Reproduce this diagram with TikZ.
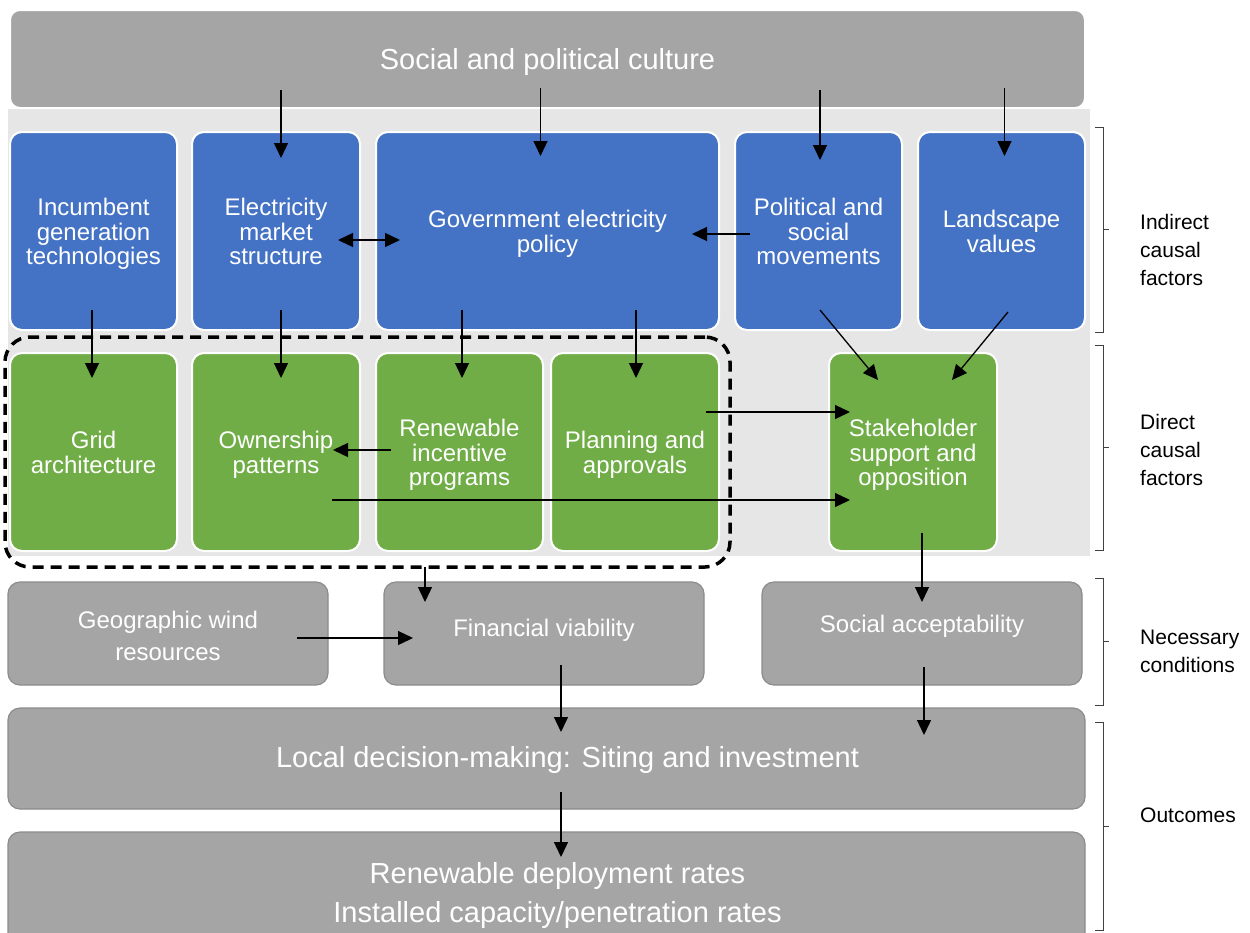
\documentclass[tikz,border=0pt]{standalone}
\usepackage{fontspec}
\setmainfont{Liberation Sans}
\usetikzlibrary{arrows.meta,calc}
\definecolor{cblue}{HTML}{4472C4}
\definecolor{cgreen}{HTML}{70AD47}
\definecolor{cgrey}{HTML}{A5A5A5}
\definecolor{cband}{HTML}{E6E6E6}
\definecolor{cedge}{HTML}{8C8C8C}
\definecolor{cbrk}{HTML}{404040}
\newcommand\fsz[2]{\fontsize{#1}{#2}\selectfont}
\begin{document}
\begin{tikzpicture}[x=1pt,y=-1pt,
  box/.style={rounded corners=12pt, inner sep=0pt, outer sep=0pt, anchor=center},
  inner/.style={align=center, text=white, inner sep=0pt},
  ftxt/.style={inner, font=\fsz{24}{24.5}, text depth=5pt, yshift=-3pt},
  ctxt/.style={inner, font=\fsz{24}{32}},
  btxt/.style={inner, font=\fsz{29}{39}},
  factor/.style={box, draw=white, line width=2pt, minimum height=198pt},
  bluebox/.style={factor, fill=cblue},
  greenbox/.style={factor, fill=cgreen},
  condbox/.style={box, fill=cgrey, draw=cedge, line width=1.2pt, minimum height=103pt, minimum width=320pt},
  bigbox/.style={box, fill=cgrey},
  tip/.tip={Triangle[length=15pt,width=14pt]},
  arr/.style={-tip, line width=1.3pt, black},
  dbl/.style={tip-tip, line width=1.3pt, black},
  brk/.style={draw=cbrk, line width=1pt},
  side/.style={anchor=west, align=left, inner sep=0pt, font=\fsz{21}{28}, text=black}
]
\clip (0,0) rectangle (1250,932);
\fill[white] (0,0) rectangle (1250,932);

% light band behind the factor rows
\fill[cband] (8,109) rectangle (1090,556);

% culture banner
\node[bigbox, draw=white, line width=2pt, rounded corners=10pt, minimum width=1075pt, minimum height=98pt,
      label={[btxt, yshift=-3pt]center:{Social and political culture}}] (top) at (547.5,59) {};

% indirect causal factors
\node[bluebox, minimum width=167pt, label={[ftxt]center:{Incumbent\\generation\\technologies}}] (inc) at (93.5,231) {};
\node[bluebox, minimum width=168pt, label={[ftxt]center:{Electricity\\market\\structure}}] (mkt) at (276,231) {};
\node[bluebox, minimum width=343pt, label={[ftxt]center:{Government electricity\\policy}}] (gov) at (547.5,231) {};
\node[bluebox, minimum width=167pt, label={[ftxt]center:{Political and\\social\\movements}}] (pol) at (818.5,231) {};
\node[bluebox, minimum width=167pt, label={[ftxt]center:{Landscape\\values}}] (land) at (1001.5,231) {};

% direct causal factors
\node[greenbox, minimum width=167pt, label={[ftxt]center:{Grid\\architecture}}] (grid) at (93.5,452) {};
\node[greenbox, minimum width=168pt, label={[ftxt]center:{Ownership\\patterns}}] (own) at (276,452) {};
\node[greenbox, minimum width=167pt, label={[ftxt]center:{Renewable\\incentive\\programs}}] (ren) at (459.5,452) {};
\node[greenbox, minimum width=168pt, label={[ftxt]center:{Planning and\\approvals}}] (plan) at (635,452) {};
\node[greenbox, minimum width=168pt, label={[ftxt]center:{Stakeholder\\support and\\opposition}}] (stake) at (913,452) {};

% dashed grouping of the policy-linked factors
\node[draw=black, line width=3.5pt, dash pattern=on 11pt off 7pt, rounded corners=25pt,
      minimum width=725pt, minimum height=230pt, inner sep=0pt, outer sep=0pt] (grp) at (367.5,452) {};

% necessary conditions
\node[condbox, label={[ctxt, yshift=-2pt]center:{Geographic wind\\resources}}] (geo) at (168,633.5) {};
\node[condbox, label={[ctxt, yshift=3pt]center:{Financial viability}}] (fin) at (544,633.5) {};
\node[condbox, label={[ctxt, yshift=7pt]center:{Social acceptability}}] (soc) at (922,633.5) {};

% outcomes
\node[bigbox, draw=cedge, line width=1.2pt, minimum width=1077pt, minimum height=101pt,
      label={[btxt, xshift=21pt, yshift=-1pt]center:{Local decision-making: Siting and investment}}] (local) at (546.5,758.5) {};
\node[bigbox, draw=cedge, line width=1.2pt, minimum width=1077pt, minimum height=120pt,
      label={[btxt, xshift=11pt, yshift=-3pt]center:{Renewable deployment rates\\Installed capacity/penetration rates}}] (dep) at (546.5,892) {};

% culture to indirect factors
\draw[arr, shorten <=-18pt, shorten >=-26pt] ([xshift=5pt]top.south -| mkt.north) -- ([xshift=5pt]mkt.north);
\draw[arr, shorten <=-20pt, shorten >=-24pt] ([xshift=-7pt]top.south -| gov.north) -- ([xshift=-7pt]gov.north);
\draw[arr, shorten <=-18pt, shorten >=-28pt] ([xshift=1.5pt]top.south -| pol.north) -- ([xshift=1.5pt]pol.north);
\draw[arr, shorten <=-20pt, shorten >=-24pt] ([xshift=3pt]top.south -| land.north) -- ([xshift=3pt]land.north);

% links among indirect factors
\draw[dbl, shorten <=-22pt, shorten >=-24pt] ([yshift=-9pt]mkt.east) -- ([yshift=-9pt]gov.west);
\draw[arr, shorten <=-15pt, shorten >=-27pt] ([yshift=-3pt]pol.west) -- ([yshift=-3pt]gov.east);

% indirect to direct factors
\draw[arr, shorten <=-20pt, shorten >=-25pt] ([xshift=-1.5pt]inc.south) -- ([xshift=-1.5pt]grid.north);
\draw[arr, shorten <=-20pt, shorten >=-25pt] ([xshift=5pt]mkt.south) -- ([xshift=5pt]own.north);
\draw[arr, shorten <=-20pt, shorten >=-25pt] ([xshift=2.5pt]gov.south -| ren.north) -- ([xshift=2.5pt]ren.north);
\draw[arr, shorten <=-20pt, shorten >=-25pt] ([xshift=1pt]gov.south -| plan.north) -- ([xshift=1pt]plan.north);
\draw[arr] ([xshift=1.5pt,yshift=20pt]pol.south) -- ([xshift=-35pt,yshift=-27pt]stake.north);
\draw[arr] ([xshift=6.5pt,yshift=18pt]land.south) -- ([xshift=39pt,yshift=-27pt]stake.north);

% links among direct factors
\draw[arr, shorten <=-15pt, shorten >=-27pt] ([yshift=2pt]ren.west) -- ([yshift=2pt]own.east);
\draw[arr, shorten <=-13pt, shorten >=-21pt] ([yshift=40pt]plan.east) -- ([yshift=40pt]stake.west);
\draw[arr, shorten <=-28pt, shorten >=-21pt] ([yshift=-48pt]own.east) -- ([yshift=-48pt]stake.west);

% direct factors to necessary conditions
\draw[arr, shorten <=-18pt, shorten >=-20pt] (stake.south -| soc.north) -- (soc.north);
\coordinate (finin) at ([xshift=-119pt]fin.north);
\draw[arr, shorten >=-20pt] (grp.south -| finin) -- (finin);
\draw[arr, shorten <=-31pt, shorten >=-29pt] ([yshift=-4.5pt]geo.east) -- ([yshift=-4.5pt]fin.west);

% necessary conditions to outcomes
\coordinate (mid) at ([xshift=17pt]fin.south);
\draw[arr, shorten <=-20pt, shorten >=-24pt] (mid) -- (mid |- local.north);
\draw[arr, shorten <=-18pt, shorten >=-27pt] ([xshift=2pt]soc.south) -- ([xshift=2pt]soc.south |- local.north);
\draw[arr, shorten <=-17pt, shorten >=-25pt] (mid |- local.south) -- (mid |- dep.north);

% side brackets and their captions
\draw[brk] (1095,127) -- (1103,127) -- (1103,332) -- (1095,332) (1103,229.5) -- (1109,229.5);
\draw[brk] (1095,345) -- (1103,345) -- (1103,550) -- (1095,550) (1103,447.5) -- (1109,447.5);
\draw[brk] (1095,578) -- (1103,578) -- (1103,705) -- (1095,705) (1103,641.5) -- (1109,641.5);
\draw[brk] (1095,722) -- (1103,722) -- (1103,930) -- (1095,930) (1103,826) -- (1109,826);
\node[side] (lab1) at (1140,250) {Indirect\\causal\\factors};
\node[side] (lab2) at (1140,450) {Direct\\causal\\factors};
\node[side] (lab3) at (1140,651.5) {Necessary\\conditions};
\node[side] (lab4) at (1140,815) {Outcomes};
\end{tikzpicture}
\end{document}
